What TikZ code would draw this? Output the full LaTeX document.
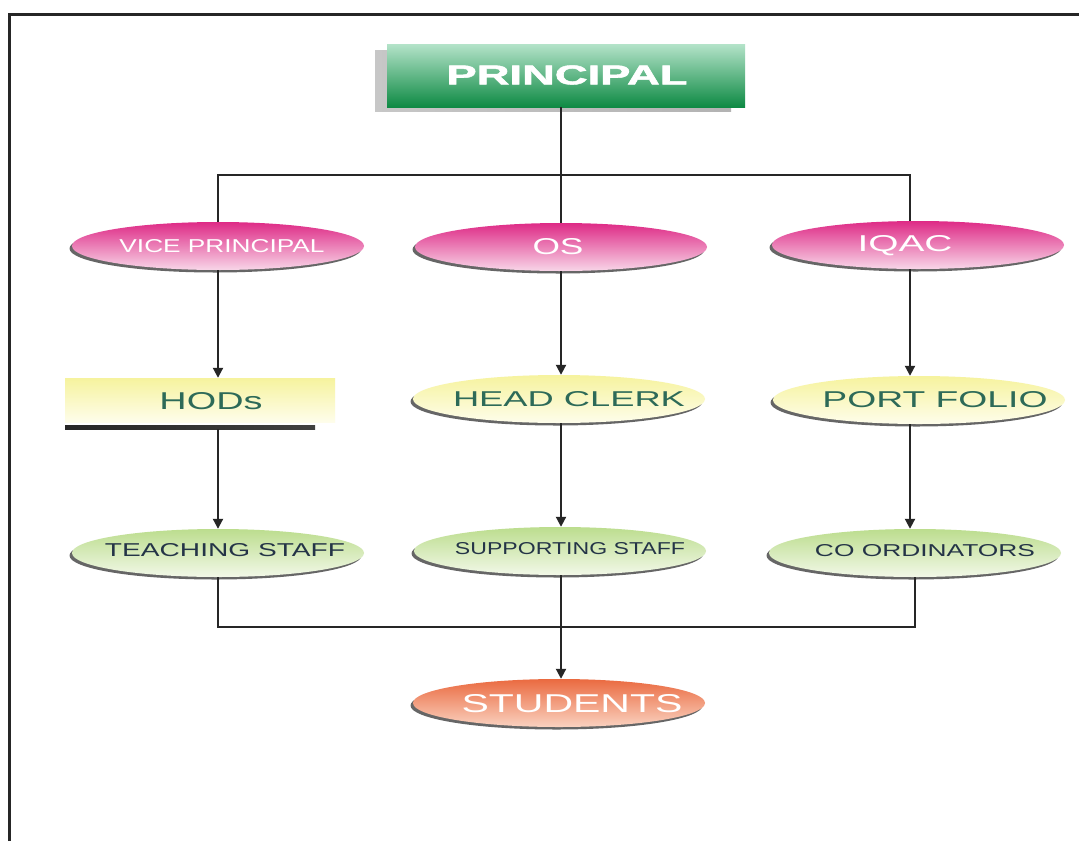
\documentclass[tikz,border=0pt]{standalone}
\usepackage{fontspec}
\setmainfont{Liberation Sans}
\newfontfamily\heavyfont{Liberation Sans}[BoldFeatures={FakeBold=1.6}]
\usetikzlibrary{shapes.geometric,arrows.meta}
\definecolor{magtop}{HTML}{DE2A86}
\definecolor{magbot}{HTML}{F8D6E8}
\definecolor{yeltop}{HTML}{F6F39E}
\definecolor{yelbot}{HTML}{FEFDEB}
\definecolor{grntop}{HTML}{BCDD8E}
\definecolor{grnbot}{HTML}{F2F8E8}
\definecolor{stutop}{HTML}{EA6A40}
\definecolor{stubot}{HTML}{FAD2C0}
\definecolor{prtop}{HTML}{B4E3C9}
\definecolor{prmid}{HTML}{1FA659}
\definecolor{prbot}{HTML}{0E8A44}
\definecolor{tealtxt}{HTML}{2D6A58}
\definecolor{navytxt}{HTML}{243447}
\tikzset{
  oval/.style={ellipse, minimum width=292pt, minimum height=48pt, inner sep=0pt, draw=none},
  ovshadow/.style={oval, fill=black!60, xshift=-2.5pt, yshift=-2.5pt},
  pinkoval/.style={oval, top color=magtop, bottom color=magbot},
  yeloval/.style={oval, top color=yeltop, bottom color=yelbot},
  grnoval/.style={oval, top color=grntop, bottom color=grnbot},
  stuoval/.style={oval, top color=stutop, bottom color=stubot},
  lbl/.style={inner sep=0pt, anchor=center},
  link/.style={line width=2pt, black!85},
  arrowlink/.style={link, -{Triangle[length=10pt,width=10pt]}},
}
\begin{document}
\begin{tikzpicture}[x=1pt,y=-1pt]
\useasboundingbox (0,0) rectangle (1079,841);
\fill[white] (0,0) rectangle (1079,841);
% frame
\draw[line width=3pt, black!85] (9,841) -- (9,14.5) -- (1079,14.5);

% column coordinates
\coordinate (cL) at (218,0);
\coordinate (cM) at (561,0);
\coordinate (cR) at (910,0);
\coordinate (busT) at (0,175);
\coordinate (busB) at (0,627);

% principal
\node[draw=none, inner sep=0pt, minimum width=356pt, minimum height=61pt,
      left color=black!22, right color=black!30] (prs) at (553,81) {};
\node[draw=none, inner sep=0pt, minimum width=358pt, minimum height=63pt,
      top color=prtop, middle color=prmid, bottom color=prbot] (pr) at (566,75.5) {};
\node[lbl, white] (pr-t) at (567,75) {\resizebox{241pt}{19pt}{\heavyfont\bfseries PRINCIPAL}};

% row 1
\node[ovshadow] (vp-s) at (218,246) {};
\node[pinkoval] (vp) at (218,246) {};
\node[lbl, white] (vp-t) at (222,246) {\resizebox{205pt}{13pt}{VICE PRINCIPAL}};

\node[ovshadow] (os-s) at (561,247) {};
\node[pinkoval] (os) at (561,247) {};
\node[lbl, white] (os-t) at (558,247) {\resizebox{51pt}{16pt}{OS}};

\node[ovshadow] (iq-s) at (918,245) {};
\node[pinkoval] (iq) at (918,245) {};
\node[lbl, white] (iq-t) at (905,246) {\resizebox{95pt}{16pt}{IQAC}};

% row 2
\node[draw=none, inner sep=0pt, minimum width=250pt, minimum height=4pt,
      left color=black!85, middle color=black!10, right color=black!75] (hod-s) at (190,427) {};
\node[draw=none, inner sep=0pt, minimum width=270pt, minimum height=44pt,
      top color=yeltop, bottom color=yelbot] (hod) at (200,400) {};
\node[lbl, tealtxt] (hod-t) at (211,401) {\resizebox{103pt}{17pt}{HODs}};

\node[ovshadow] (hc-s) at (559,399) {};
\node[yeloval] (hc) at (559,399) {};
\node[lbl, tealtxt] (hc-t) at (569,399) {\resizebox{232pt}{15pt}{HEAD CLERK}};

\node[ovshadow] (pf-s) at (919,400) {};
\node[yeloval] (pf) at (919,400) {};
\node[lbl, tealtxt] (pf-t) at (935,400) {\resizebox{225pt}{16pt}{PORT FOLIO}};

% row 3
\node[ovshadow] (ts-s) at (218,553) {};
\node[grnoval] (ts) at (218,553) {};
\node[lbl, navytxt] (ts-t) at (225,550) {\resizebox{240pt}{13pt}{TEACHING STAFF}};

\node[ovshadow] (ss-s) at (560,551) {};
\node[grnoval] (ss) at (560,551) {};
\node[lbl, navytxt] (ss-t) at (570,549) {\resizebox{230pt}{12pt}{SUPPORTING STAFF}};

\node[ovshadow] (co-s) at (915,553) {};
\node[grnoval] (co) at (915,553) {};
\node[lbl, navytxt] (co-t) at (925,551) {\resizebox{220pt}{12pt}{CO ORDINATORS}};

% row 4
\node[ovshadow] (st-s) at (559,703) {};
\node[stuoval] (st) at (559,703) {};
\node[lbl, white] (st-t) at (572,704) {\resizebox{221pt}{18pt}{STUDENTS}};

% connectors top
\draw[link] (pr.south -| cM) -- (os.north -| cM);
\draw[link] (vp.north -| cL) -- (busT -| cL) -- (busT -| cR) -- (iq.north -| cR);

% column arrows
\draw[arrowlink] (vp.south -| cL) -- (hod.north -| cL);
\draw[arrowlink] (os.south -| cM) -- (hc.north -| cM);
\draw[arrowlink] (iq.south -| cR) -- (pf.north -| cR);
\draw[arrowlink] (hod-s.south -| cL) -- (ts.north -| cL);
\draw[arrowlink] (hc.south -| cM) -- (ss.north -| cM);
\draw[arrowlink] (pf.south -| cR) -- (co.north -| cR);

% bottom bus
\coordinate (cR2) at (915,0);
\draw[link] (ts.south -| cL) -- (busB -| cL) -- (busB -| cR2) -- (co.south -| cR2);
\draw[arrowlink] (ss.south -| cM) -- (st.north -| cM);
\end{tikzpicture}
\end{document}
